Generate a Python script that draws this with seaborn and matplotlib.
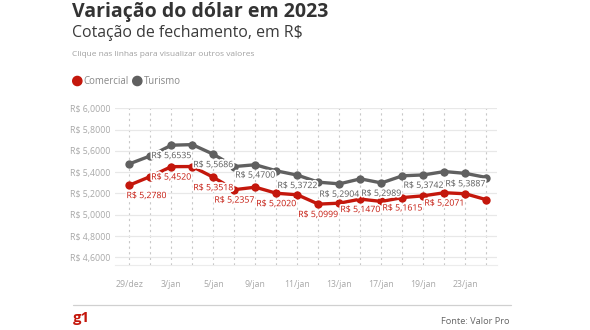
import matplotlib
matplotlib.use("Agg")
import matplotlib.pyplot as plt
import matplotlib.patheffects as pe
from matplotlib import font_manager as fm
from matplotlib.patches import Ellipse
from matplotlib.lines import Line2D
import seaborn as sns
import pandas as pd

# Trading days and closing quotes (R$)
datas = ["29/dez", "2/jan", "3/jan", "4/jan", "5/jan", "6/jan", "9/jan", "10/jan",
         "11/jan", "12/jan", "13/jan", "16/jan", "17/jan", "18/jan", "19/jan",
         "20/jan", "23/jan", "24/jan"]
comercial = [5.2780, 5.3590, 5.4520, 5.4530, 5.3518, 5.2357, 5.2590, 5.2020,
             5.1875, 5.0999, 5.1090, 5.1470, 5.1250, 5.1615, 5.1780, 5.2071,
             5.1970, 5.1410]
turismo = [5.4780, 5.5530, 5.6535, 5.6590, 5.5686, 5.4530, 5.4700, 5.4125,
           5.3722, 5.3060, 5.2904, 5.3375, 5.2989, 5.3660, 5.3742, 5.4060,
           5.3887, 5.3500]
# Points that carry a value label
rotulos_comercial = [0, 2, 4, 5, 7, 9, 11, 13, 15]
rotulos_turismo = [2, 4, 6, 8, 10, 12, 14, 16]
ticks_y = [4.6, 4.8, 5.0, 5.2, 5.4, 5.6, 5.8, 6.0]
ticks_x = [0, 2, 4, 6, 8, 10, 12, 14, 16]

VERMELHO = "#c4170c"
CINZA = "#606060"

sns.set_theme(style="white")
plt.rcParams["font.family"] = ["Open Sans", "Noto Sans", "DejaVu Sans"]

negrito = fm.FontProperties(family=["Open Sans", "Inter", "DejaVu Sans"], weight="bold")

df = pd.DataFrame({
    "i": list(range(len(datas))) * 2,
    "valor": comercial + turismo,
    "serie": ["Comercial"] * len(datas) + ["Turismo"] * len(datas),
})

W, H = 590, 330
fig = plt.figure(figsize=(W / 100, H / 100), dpi=100)
fig.patch.set_facecolor("white")
ax = fig.add_axes([115 / W, 1 - 265 / H, (497 - 115) / W, (265 - 108) / H])

sns.lineplot(data=df, x="i", y="valor", hue="serie",
             palette={"Comercial": VERMELHO, "Turismo": CINZA},
             hue_order=["Turismo", "Comercial"],
             marker="o", markersize=6, markeredgewidth=0, linewidth=2.4,
             legend=False, ax=ax, zorder=3)

ax.set_xlim(-0.68, 17.5)
ax.set_ylim(4.528, 6.003)
ax.set_xlabel("")
ax.set_ylabel("")

ax.set_yticks(ticks_y)
ax.set_yticklabels([f"R$ {v:.4f}".replace(".", ",") for v in ticks_y])
ax.set_xticks(ticks_x)
ax.set_xticklabels([datas[k] for k in ticks_x])
ax.set_xticks(range(len(datas)), minor=True)

ax.tick_params(axis="y", length=0, pad=3, labelsize=6.3, labelcolor="#a8a8a8")
ax.tick_params(axis="x", which="both", length=7, width=0.6, color="#dcdcdc",
               direction="out", pad=4, labelsize=6.3, labelcolor="#a8a8a8")

for s in ["top", "right", "left"]:
    ax.spines[s].set_visible(False)
ax.spines["bottom"].set_color("#ececec")
ax.spines["bottom"].set_linewidth(0.8)

ax.grid(axis="y", color="#e8e8e8", linewidth=0.9, linestyle="-")
ax.grid(axis="x", which="both", color="#c8c8c8", linewidth=0.8, linestyle=(0, (2, 3)))
ax.set_axisbelow(True)


def fmt(v):
    return f"R$ {v:.4f}".replace(".", ",")


halo = [pe.withStroke(linewidth=2.5, foreground="white")]
for k in rotulos_turismo:
    ax.annotate(fmt(turismo[k]), (k, turismo[k]), xytext=(0, -7.5),
                textcoords="offset points", ha="center", va="center",
                fontsize=6.3, color="#5a5a5a", path_effects=halo, zorder=4)
for k in rotulos_comercial:
    ha = "left" if k == 0 else "center"
    dx = -2 if k == 0 else 0
    ax.annotate(fmt(comercial[k]), (k, comercial[k]), xytext=(dx, -7.5),
                textcoords="offset points", ha=ha, va="center",
                fontsize=6.3, color=VERMELHO, path_effects=halo, zorder=4)

# Header
fig.text(72.5 / W, 1 - 16.7 / H, "Variação do dólar em 2023", fontproperties=negrito,
         fontsize=14, color="#333333", va="baseline", ha="left")
fig.text(72.5 / W, 1 - 36.7 / H, "Cotação de fechamento, em R$", fontsize=11.45,
         color="#3a3a3a", va="baseline", ha="left")
fig.text(72.5 / W, 1 - 54.5 / H, "Clique nas linhas para visualizar outros valores",
         fontsize=6.0, color="#a0a0a0", va="center", ha="left")

# Legend
for cx, cor, tx, nome in [(77.3, VERMELHO, 83.5, "Comercial"), (137.3, CINZA, 143.8, "Turismo")]:
    fig.add_artist(Ellipse((cx / W, 1 - 81 / H), 9.2 / W, 9.2 / H,
                           transform=fig.transFigure, color=cor))
    fig.text(tx / W, 1 - 81 / H, nome, fontsize=6.9, color="#888888",
             va="center", ha="left")

# Footer
fig.add_artist(Line2D([73 / W, 511 / W], [1 - 304.5 / H, 1 - 304.5 / H],
               transform=fig.transFigure, color="#d0d0d0", linewidth=0.9))
fig.text(72.5 / W, 1 - 322.3 / H, "g1", fontproperties=negrito, fontsize=10.8,
         color=VERMELHO, va="baseline", ha="left")
fig.text(509 / W, 1 - 321.5 / H, "Fonte: Valor Pro", fontsize=6.7,
         color="#666666", va="center", ha="right")

fig.savefig("out.png", dpi=100, facecolor="white")
